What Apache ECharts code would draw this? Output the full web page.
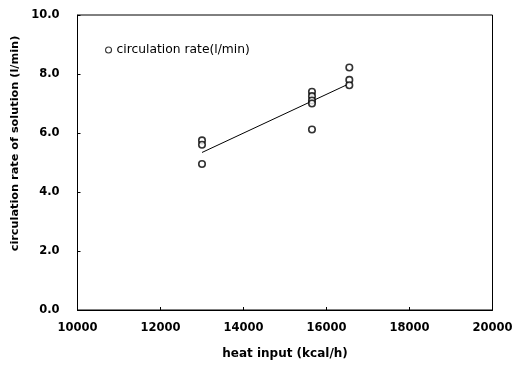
<!DOCTYPE html>
<html>
<head>
<meta charset="utf-8">
<script src="https://cdn.jsdelivr.net/npm/echarts@6/dist/echarts.min.js"></script>
<style>html,body{margin:0;padding:0;background:#fff;}#c{width:528px;height:365px;}</style>
</head>
<body>
<div id="c"></div>
<script>
var heatInput = [13000, 13000, 13000, 15650, 15650, 15650, 15650, 15650, 16550, 16550, 16550];
var circRate  = [5.75, 5.6, 4.95, 7.4, 7.25, 7.1, 7.0, 6.12, 8.22, 7.8, 7.62];
var fitX = [13000, 16500];
var fitY = [5.34, 7.64];
var xTicks = [10000, 12000, 14000, 16000, 18000, 20000];
var yTicks = [0, 2, 4, 6, 8, 10];
var seriesName = 'circulation rate(l/min)';

var chart = echarts.init(document.getElementById('c'));
var font = '"DejaVu Sans", "Liberation Sans", Arial, sans-serif';
chart.setOption({
  animation: false,
  backgroundColor: '#fff',
  textStyle: { fontFamily: font, color: '#000' },
  grid: { left: 77.5, right: 35.5, top: 15, bottom: 55, show: true, borderColor: '#000', borderWidth: 1 },
  legend: {
    data: [seriesName],
    left: 100, top: 39,
    itemWidth: 6, itemHeight: 6, itemGap: 4,
    itemStyle: { borderWidth: 1.1 },
    textStyle: { fontFamily: font, fontSize: 12.3, color: '#000' }
  },
  xAxis: {
    type: 'value', min: xTicks[0], max: xTicks[xTicks.length - 1], interval: 2000,
    name: 'heat input (kcal/h)', nameLocation: 'middle', nameGap: 38,
    nameTextStyle: { fontFamily: font, fontSize: 12, fontWeight: 'bold', color: '#000' },
    axisLine: { lineStyle: { color: '#000', width: 1 } },
    axisTick: { inside: true, length: 3, lineStyle: { color: '#000' } },
    axisLabel: { fontFamily: font, fontSize: 11.5, fontWeight: 'bold', color: '#000', margin: 12,
      formatter: function (v) { return String(v); } },
    splitLine: { show: false }
  },
  yAxis: {
    type: 'value', min: yTicks[0], max: yTicks[yTicks.length - 1], interval: 2,
    name: 'circulation rate of solution (l/min)', nameLocation: 'middle', nameGap: 56,
    nameTextStyle: { fontFamily: font, fontSize: 11.3, fontWeight: 'bold', color: '#000', padding: [0, 0, 0, 38] },
    axisLine: { lineStyle: { color: '#000', width: 1 } },
    axisTick: { inside: true, length: 3, lineStyle: { color: '#000' } },
    axisLabel: { fontFamily: font, fontSize: 11.5, fontWeight: 'bold', color: '#000', margin: 18,
      formatter: function (v) { return v.toFixed(1); } },
    splitLine: { show: false }
  },
  series: [
    {
      name: seriesName, type: 'scatter', symbol: 'circle', symbolSize: 6.5,
      itemStyle: { color: '#fff', borderColor: '#000', borderWidth: 1.6 },
      data: heatInput.map(function (x, i) { return [x, circRate[i]]; }),
      z: 3
    },
    {
      name: 'fit', type: 'line', symbol: 'none',
      lineStyle: { color: '#000', width: 1 },
      data: fitX.map(function (x, i) { return [x, fitY[i]]; }),
      z: 2
    }
  ]
});
</script>
</body>
</html>
